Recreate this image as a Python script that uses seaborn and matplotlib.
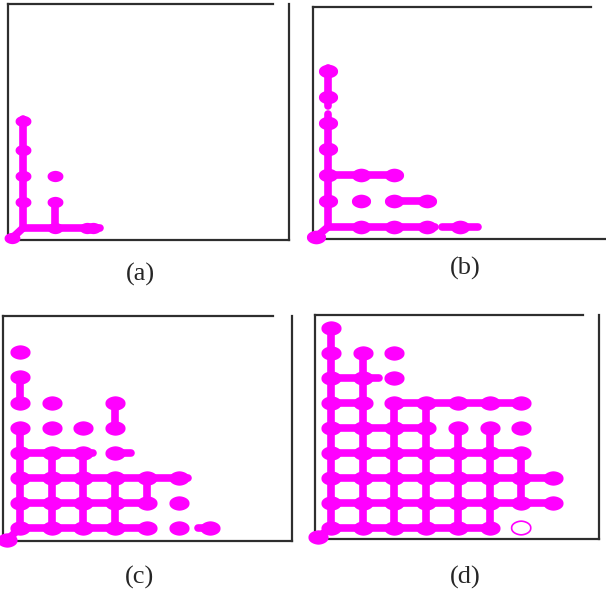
import numpy as np
import pandas as pd
import matplotlib
matplotlib.use("Agg")
import matplotlib.pyplot as plt
import seaborn as sns

sns.set_style("white")
plt.rcParams['font.family'] = ['Liberation Serif', 'DejaVu Serif']

# lattice data, in lattice units (column i, row j)
# panel (a)
A_NODE_X = [-0.35, 0, 0, 0, 0, 1, 1, 1, 2, 2.2]
A_NODE_Y = [-0.4, 4.1, 3, 2, 1, 2, 1, 0, 0, 0]
A_SEGS = [(-0.35, -0.4, 0, 0), (0, 0, 2.4, 0), (0, 0, 0, 4.2), (1, 0, 1, 1)]

# panel (b)
B_NODE_X = [-0.36, 0, 0, 0, 0, 0, 0, 1, 2, 3, 4, 1, 2, 3, 1, 2]
B_NODE_Y = [-0.38, 1, 2, 3, 4, 5, 6, 0, 0, 0, 0, 1, 1, 1, 2, 2]
B_SEGS = [(-0.36, -0.38, 0, 0), (0, 0, 0, 4.35), (0, 4.65, 0, 6.1),
          (0, 0, 3.25, 0), (3.45, 0, 4.55, 0), (2, 1, 3, 1), (0, 2, 2, 2)]

# panel (c)
C_NODE_X = [-0.41] + [0]*8 + [1]*6 + [2]*5 + [3]*6 + [4]*3 + [5]*3 + [6]
C_NODE_Y = ([-0.48] + list(range(8)) + list(range(6)) + list(range(5))
            + list(range(6)) + [0, 1, 2] + [0, 1, 2] + [0])
C_SEGS = [(-0.41, -0.48, 0, 0),
          (0, 0, 4, 0), (0, 1, 4, 1), (0, 2, 5.3, 2), (0, 3, 2.3, 3),
          (0, 0, 0, 4), (0, 5, 0, 6), (1, 0, 1, 3), (2, 0, 2, 3),
          (3, 0, 3, 2), (4, 1, 4, 2), (3, 4, 3, 5),
          (3, 3, 3.5, 3), (5.6, 0, 6, 0)]

# panel (d)
D_NODE_X = ([-0.41] + [0]*9 + [1]*8 + [2]*8 + [3]*6 + [4]*6 + [5]*6
            + [6]*5 + [7]*2)
D_NODE_Y = ([-0.36] + list(range(9)) + list(range(8)) + list(range(8))
            + list(range(6)) + list(range(6)) + list(range(6))
            + [1, 2, 3, 4, 5] + [1, 2])
D_SEGS = [(-0.41, -0.36, 0, 0),
          (0, 0, 5, 0), (0, 1, 7, 1), (0, 2, 7, 2), (0, 3, 6, 3),
          (0, 4, 3, 4), (0, 5, 1, 5), (2, 5, 6, 5), (0, 6, 1.5, 6),
          (0, 0, 0, 8), (1, 0, 1, 7), (2, 0, 2, 5), (3, 0, 3, 5),
          (4, 0, 4, 4), (5, 0, 5, 4), (6, 1, 6, 3)]
D_OPEN_X = [6]
D_OPEN_Y = [0]

LABELS = ['(a)', '(b)', '(c)', '(d)']

W, H = 606, 591
MAGENTA = '#ff00ff'

# rounded blob marker, a bit wider than tall
t = np.linspace(0, 2*np.pi, 60)
blob = np.column_stack([1.4*np.sign(np.cos(t))*np.abs(np.cos(t))**1.15,
                        np.sign(np.sin(t))*np.abs(np.sin(t))**0.9])

fig = plt.figure(figsize=(W/100, H/100), dpi=100)


def panel(box, top_end, origin, step, show_right, nx, ny, segs, size, lw):
    left, top, right, bottom = box
    ox, oy = origin
    sx, sy = step
    ax = fig.add_axes([left/W, 1 - bottom/H, (right-left)/W, (bottom-top)/H])
    rows = []
    for k, (x0, y0, x1, y1) in enumerate(segs):
        rows.append((k, x0, y0))
        rows.append((k, x1, y1))
    df = pd.DataFrame(rows, columns=['seg', 'x', 'y'])
    sns.lineplot(data=df, x='x', y='y', units='seg', estimator=None, sort=False,
                 color=MAGENTA, linewidth=lw, solid_capstyle='round',
                 legend=False, ax=ax, clip_on=False)
    sns.scatterplot(x=nx, y=ny, marker=blob, s=size, color=MAGENTA,
                    linewidth=0, ax=ax, clip_on=False, zorder=3)
    x0 = (left - ox)/sx
    ax.set_xlim(x0, (right - ox)/sx)
    ax.set_ylim((oy - bottom)/sy, (oy - top)/sy)
    ax.set_xticks([])
    ax.set_yticks([])
    ax.set_xlabel('')
    ax.set_ylabel('')
    ax.patch.set_alpha(0)
    for s in ax.spines.values():
        s.set_color('#2e2e2e')
        s.set_linewidth(1.6)
    ax.spines['top'].set_bounds(x0, (top_end - ox)/sx)
    ax.spines['right'].set_visible(show_right)
    return ax


panel((8, 4, 289, 240), 273, (23, 228), (32, 26), True,
      A_NODE_X, A_NODE_Y, A_SEGS, 130, 5.5)
panel((313, 7, 605, 239), 591, (328, 227), (33, 26), False,
      B_NODE_X, B_NODE_Y, B_SEGS, 190, 5.5)
panel((3, 316, 292, 541), 273, (20, 528), (31.7, 25.1), True,
      C_NODE_X, C_NODE_Y, C_SEGS, 210, 5.5)
axd = panel((315, 315, 599, 539), 583, (331, 528), (31.7, 25), True,
            D_NODE_X, D_NODE_Y, D_SEGS, 210, 5.5)
sns.scatterplot(x=D_OPEN_X, y=D_OPEN_Y, marker=blob, s=190, facecolor='none',
                edgecolor=MAGENTA, linewidth=1.2, ax=axd, clip_on=False)

for lab, (px, py) in zip(LABELS, [(140, 274), (465, 268), (140, 577), (465, 577)]):
    fig.text(px/W, 1 - py/H, lab, ha='center', va='center', fontsize=19)

fig.savefig('out.png', dpi=100)
